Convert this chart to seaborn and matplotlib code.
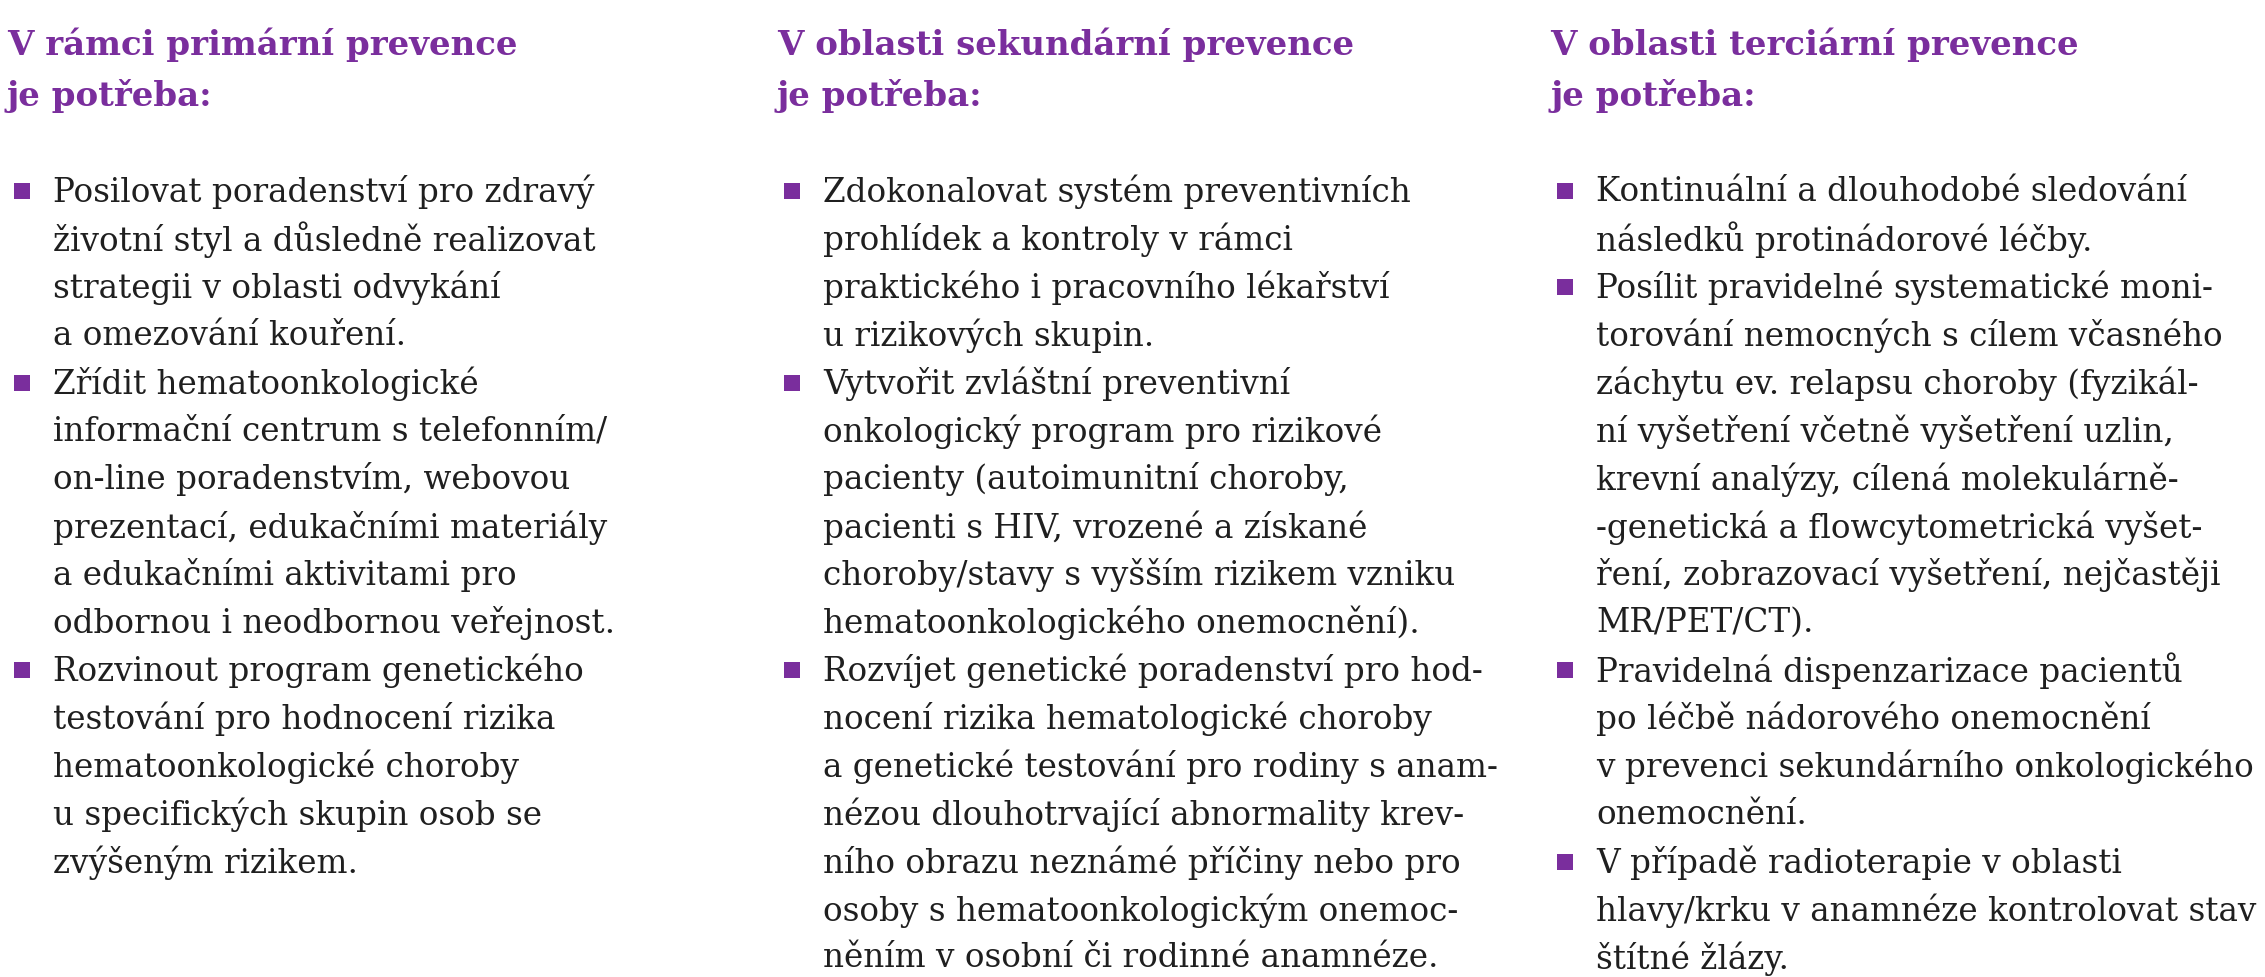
import matplotlib
matplotlib.use("Agg")
import matplotlib.pyplot as plt
import seaborn as sns

sns.set_theme(style="white")
plt.rcParams['font.family'] = ['DejaVu Serif']

PURPLE = '#7a2e9d'
TEXT = '#1f1f1f'

# column headings and their bullet items (one list of lines per item)
titles = [
    ["V rámci primární prevence", "je potřeba:"],
    ["V oblasti sekundární prevence", "je potřeba:"],
    ["V oblasti terciární prevence", "je potřeba:"],
]

col1 = [
    ["Posilovat poradenství pro zdravý", "životní styl a důsledně realizovat",
     "strategii v oblasti odvykání", "a omezování kouření."],
    ["Zřídit hematoonkologické", "informační centrum s telefonním/",
     "on-line poradenstvím, webovou", "prezentací, edukačními materiály",
     "a edukačními aktivitami pro", "odbornou i neodbornou veřejnost."],
    ["Rozvinout program genetického", "testování pro hodnocení rizika",
     "hematoonkologické choroby", "u specifických skupin osob se",
     "zvýšeným rizikem."],
]
col2 = [
    ["Zdokonalovat systém preventivních", "prohlídek a kontroly v rámci",
     "praktického i pracovního lékařství", "u rizikových skupin."],
    ["Vytvořit zvláštní preventivní", "onkologický program pro rizikové",
     "pacienty (autoimunitní choroby,", "pacienti s HIV, vrozené a získané",
     "choroby/stavy s vyšším rizikem vzniku", "hematoonkologického onemocnění)."],
    ["Rozvíjet genetické poradenství pro hod-", "nocení rizika hematologické choroby",
     "a genetické testování pro rodiny s anam-", "nézou dlouhotrvající abnormality krev-",
     "ního obrazu neznámé příčiny nebo pro", "osoby s hematoonkologickým onemoc-",
     "něním v osobní či rodinné anamnéze."],
]
col3 = [
    ["Kontinuální a dlouhodobé sledování", "následků protinádorové léčby."],
    ["Posílit pravidelné systematické moni-", "torování nemocných s cílem včasného",
     "záchytu ev. relapsu choroby (fyzikál-", "ní vyšetření včetně vyšetření uzlin,",
     "krevní analýzy, cílená molekulárně-", "-genetická a flowcytometrická vyšet-",
     "ření, zobrazovací vyšetření, nejčastěji", "MR/PET/CT)."],
    ["Pravidelná dispenzarizace pacientů", "po léčbě nádorového onemocnění",
     "v prevenci sekundárního onkologického", "onemocnění."],
    ["V případě radioterapie v oblasti", "hlavy/krku v anamnéze kontrolovat stav",
     "štítné žlázy."],
]
columns = [col1, col2, col3]

W, H = 2265, 978
fig = plt.figure(figsize=(W / 100, H / 100), dpi=100)
ax = fig.add_axes([0, 0, 1, 1])
ax.set_xlim(0, W)
ax.set_ylim(H, 0)
ax.axis('off')

col_x = [7, 777, 1550]
title_y = [45, 96]
first_y = 192
step = 47.9
fs = 23.5

for cx, title, items in zip(col_x, titles, columns):
    for ty, t in zip(title_y, title):
        ax.text(cx, ty, t, color=PURPLE, fontsize=24.5, fontweight='bold', va='center', ha='left')
    y = first_y
    for item in items:
        ax.scatter([cx + 15], [y], marker='s', s=120, color=PURPLE, linewidths=0)
        for line in item:
            ax.text(cx + 46, y, line, color=TEXT, fontsize=fs, va='center', ha='left')
            y += step

fig.savefig('out.png', dpi=100, facecolor='white')
